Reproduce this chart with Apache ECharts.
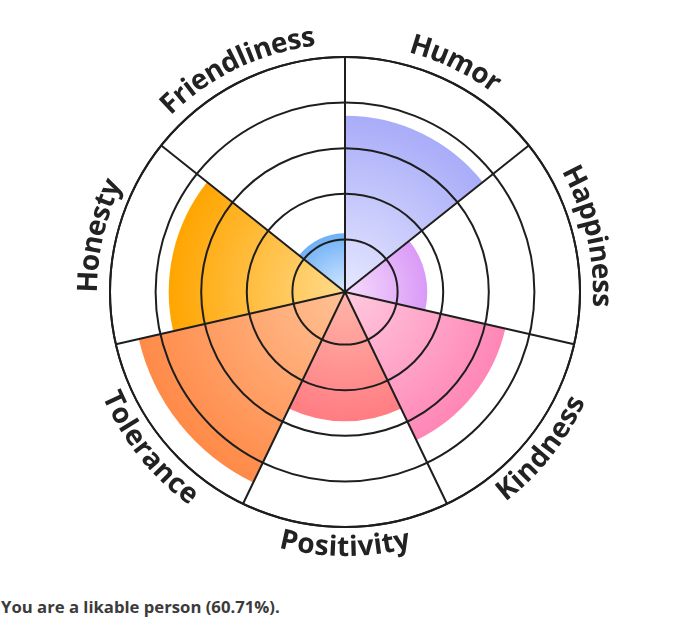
<!DOCTYPE html>
<html>
<head>
<meta charset="utf-8">
<script src="https://cdn.jsdelivr.net/npm/echarts@6/dist/echarts.min.js"></script>
<style>
  html, body { margin: 0; padding: 0; background: #fff; }
  #chart { width: 680px; height: 580px; }
  #verdict { margin: 0; font: bold 16.7px "Open Sans", sans-serif; color: #3b3b3b; position: absolute; top: 595px; left: 1px; }
</style>
</head>
<body>
<div id="chart"></div>
<p id="verdict">You are a likable person (60.71%).</p>
<script>
// traits, clockwise from the top
var traits = ['Humor', 'Happiness', 'Kindness', 'Positivity', 'Tolerance', 'Honesty', 'Friendliness'];
// score of each trait, out of 5
var scores = [3.75, 1.75, 3.5, 2.75, 4.5, 3.75, 1.25];
// [inner colour, outer colour] for each trait
var colours = [
    ['#e6e8ff', '#a9acf8'],
    ['#f6ddfc', '#da9af7'],
    ['#ffcade', '#ff86b6'],
    ['#ffb6aa', '#ff7c82'],
    ['#ffc195', '#ff8a48'],
    ['#ffdb8c', '#ffa500'],
    ['#d8e9ff', '#6eb0f7']
];
var maxScore = 5;

var cx = 345, cy = 292, R = 235;
var lineColor = '#1e1e1e';

var chart = echarts.init(document.getElementById('chart'));

// bar data, each with its own radial gradient from the centre
var barData = scores.map(function (v, i) {
    return {
        value: v,
        itemStyle: {
            color: {
                type: 'radial', x: cx, y: cy, r: R * v / maxScore, global: true,
                colorStops: [
                    { offset: 0, color: colours[i][0] },
                    { offset: 1, color: colours[i][1] }
                ]
            }
        }
    };
});

// curved labels: one text element per character along an arc
var labelFont = 'bold 28px "Open Sans"';
var ctx = document.createElement('canvas').getContext('2d');
ctx.font = labelFont;
var labelR = 256;
var labelGraphics = [];
traits.forEach(function (name, i) {
    var step = 360 / traits.length;
    var mid = (90 - step * (i + 0.5)) * Math.PI / 180;
    var widths = name.split('').map(function (ch) { return ctx.measureText(ch).width; });
    var total = widths.reduce(function (a, b) { return a + b; }, 0);
    var bottom = Math.sin(mid) < -0.05;
    var cum = 0;
    name.split('').forEach(function (ch, k) {
        var off = (cum + widths[k] / 2 - total / 2) / labelR;
        var a = bottom ? mid + off : mid - off;
        cum += widths[k];
        labelGraphics.push({
            type: 'text',
            x: cx + labelR * Math.cos(a),
            y: cy - labelR * Math.sin(a),
            rotation: bottom ? a + Math.PI / 2 : a - Math.PI / 2,
            style: {
                text: ch, font: labelFont, fill: '#222',
                align: 'center', verticalAlign: 'middle'
            },
            z: 10
        });
    });
});

// ring colours: hide the ring at the minimum
var ringColours = ['rgba(0,0,0,0)', lineColor, lineColor, lineColor, lineColor, lineColor];

var option = {
    animation: false,
    polar: [
        { center: [cx, cy], radius: R },
        { center: [cx, cy], radius: [7, R] }
    ],
    angleAxis: [
        {
            polarIndex: 0,
            type: 'category',
            data: traits,
            startAngle: 90,
            clockwise: true,
            z: 5,
            axisLine: { show: true, lineStyle: { color: lineColor, width: 2 } },
            axisTick: { show: false },
            axisLabel: { show: false },
            splitLine: { show: true, lineStyle: { color: lineColor, width: 2 } }
        },
        {
            polarIndex: 1,
            type: 'category',
            data: traits,
            startAngle: 90,
            axisLine: { show: false },
            axisTick: { show: false },
            axisLabel: { show: false },
            splitLine: { show: false }
        }
    ],
    radiusAxis: [
        {
            polarIndex: 0,
            type: 'value',
            min: 0,
            max: maxScore,
            axisLine: { show: false },
            axisTick: { show: false },
            axisLabel: { show: false },
            splitLine: { show: false }
        },
        {
            polarIndex: 1,
            type: 'value',
            min: 0,
            max: maxScore,
            interval: 1,
            z: 5,
            axisLine: { show: false },
            axisTick: { show: false },
            axisLabel: { show: false },
            splitLine: { show: true, lineStyle: { color: ringColours, width: 2 } }
        }
    ],
    series: [
        {
            type: 'bar',
            coordinateSystem: 'polar',
            polarIndex: 0,
            barCategoryGap: '0%',
            data: barData
        }
    ],
    graphic: labelGraphics
};

chart.setOption(option);
</script>
</body>
</html>
